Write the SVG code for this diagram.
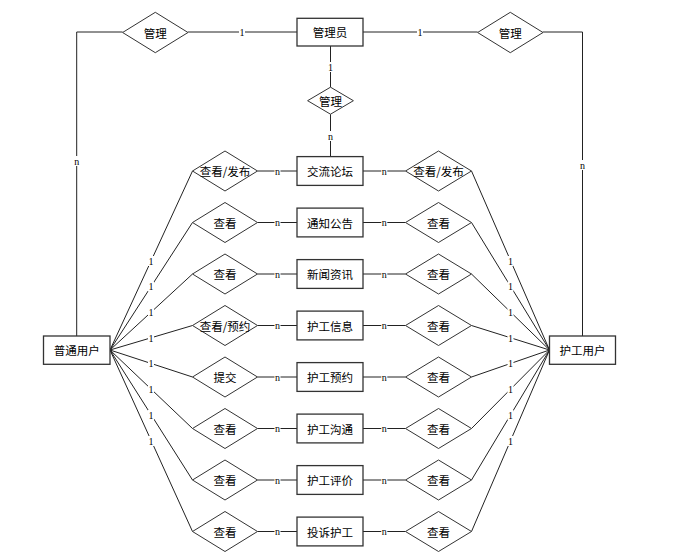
<svg xmlns="http://www.w3.org/2000/svg" width="689" height="560" viewBox="0 0 689 560">
<style>
.ent{fill:#fff;stroke:#333;stroke-width:1.3}
.rel{fill:#fff;stroke:#333;stroke-width:1}
.t{font-family:"Noto Sans CJK SC","Liberation Sans",sans-serif;font-size:11.5px;fill:#000;text-anchor:middle;dominant-baseline:central}
.c{stroke:#222;stroke-width:1;fill:none}
.lb{font-family:"Liberation Serif",serif;font-size:10px;fill:#000;text-anchor:middle;dominant-baseline:central}
.bg{fill:#fff}
</style>
<rect width="689" height="560" fill="#fff"/>
<g id="connectors">
<polyline class="c" points="297,32 188,32"/>
<polyline class="c" points="122.6,32 76.7,32 76.7,336"/>
<polyline class="c" points="363,32 477.6,32"/>
<polyline class="c" points="543,32 582.5,32 582.5,336"/>
<line class="c" x1="330.5" y1="46" x2="330.5" y2="87.2"/>
<line class="c" x1="330.5" y1="114.2" x2="330.5" y2="156.5"/>
<g id="left-lines">
<line class="c" x1="110" y1="350" x2="192.5" y2="171"/>
<line class="c" x1="110" y1="350" x2="192.5" y2="222.5"/>
<line class="c" x1="110" y1="350" x2="192.5" y2="274"/>
<line class="c" x1="110" y1="350" x2="192.5" y2="325.5"/>
<line class="c" x1="110" y1="350" x2="192.5" y2="377"/>
<line class="c" x1="110" y1="350" x2="192.5" y2="428.5"/>
<line class="c" x1="110" y1="350" x2="192.5" y2="480"/>
<line class="c" x1="110" y1="350" x2="192.5" y2="531.5"/>
</g>
<g id="right-lines">
<line class="c" x1="549.5" y1="350" x2="471.5" y2="171"/>
<line class="c" x1="549.5" y1="350" x2="471.5" y2="222.5"/>
<line class="c" x1="549.5" y1="350" x2="471.5" y2="274"/>
<line class="c" x1="549.5" y1="350" x2="471.5" y2="325.5"/>
<line class="c" x1="549.5" y1="350" x2="471.5" y2="377"/>
<line class="c" x1="549.5" y1="350" x2="471.5" y2="428.5"/>
<line class="c" x1="549.5" y1="350" x2="471.5" y2="480"/>
<line class="c" x1="549.5" y1="350" x2="471.5" y2="531.5"/>
</g>
<g id="mid-lines">
<line class="c" x1="257.5" y1="171" x2="297" y2="171"/>
<line class="c" x1="257.5" y1="222.5" x2="297" y2="222.5"/>
<line class="c" x1="257.5" y1="274" x2="297" y2="274"/>
<line class="c" x1="257.5" y1="325.5" x2="297" y2="325.5"/>
<line class="c" x1="257.5" y1="377" x2="297" y2="377"/>
<line class="c" x1="257.5" y1="428.5" x2="297" y2="428.5"/>
<line class="c" x1="257.5" y1="480" x2="297" y2="480"/>
<line class="c" x1="257.5" y1="531.5" x2="297" y2="531.5"/>
<line class="c" x1="363" y1="171" x2="405.5" y2="171"/>
<line class="c" x1="363" y1="222.5" x2="405.5" y2="222.5"/>
<line class="c" x1="363" y1="274" x2="405.5" y2="274"/>
<line class="c" x1="363" y1="325.5" x2="405.5" y2="325.5"/>
<line class="c" x1="363" y1="377" x2="405.5" y2="377"/>
<line class="c" x1="363" y1="428.5" x2="405.5" y2="428.5"/>
<line class="c" x1="363" y1="480" x2="405.5" y2="480"/>
<line class="c" x1="363" y1="531.5" x2="405.5" y2="531.5"/>
</g>
<g id="labels">
<rect class="bg" x="239" y="27" width="6" height="10"/><text class="lb" x="242" y="32">1</text>
<rect class="bg" x="417" y="27" width="6" height="10"/><text class="lb" x="420" y="32">1</text>
<rect class="bg" x="73.7" y="156" width="6" height="10"/><text class="lb" x="76.7" y="161">n</text>
<rect class="bg" x="579.5" y="160" width="6" height="10"/><text class="lb" x="582.5" y="165">n</text>
<rect class="bg" x="327.5" y="62" width="6" height="10"/><text class="lb" x="330.5" y="67">1</text>
<rect class="bg" x="327.5" y="131" width="6" height="10"/><text class="lb" x="330.5" y="136">n</text>
<g>
<rect class="bg" x="148" y="256" width="6" height="10"/><text class="lb" x="151" y="261">1</text>
<rect class="bg" x="148" y="281.5" width="6" height="10"/><text class="lb" x="151" y="286.5">1</text>
<rect class="bg" x="148" y="307.5" width="6" height="10"/><text class="lb" x="151" y="312.5">1</text>
<rect class="bg" x="148" y="333" width="6" height="10"/><text class="lb" x="151" y="338">1</text>
<rect class="bg" x="148" y="358.5" width="6" height="10"/><text class="lb" x="151" y="363.5">1</text>
<rect class="bg" x="148" y="384" width="6" height="10"/><text class="lb" x="151" y="389">1</text>
<rect class="bg" x="148" y="410" width="6" height="10"/><text class="lb" x="151" y="415">1</text>
<rect class="bg" x="148" y="436" width="6" height="10"/><text class="lb" x="151" y="441">1</text>
</g>
<g>
<rect class="bg" x="507.5" y="256" width="6" height="10"/><text class="lb" x="510.5" y="261">1</text>
<rect class="bg" x="507.5" y="281.5" width="6" height="10"/><text class="lb" x="510.5" y="286.5">1</text>
<rect class="bg" x="507.5" y="307.5" width="6" height="10"/><text class="lb" x="510.5" y="312.5">1</text>
<rect class="bg" x="507.5" y="333" width="6" height="10"/><text class="lb" x="510.5" y="338">1</text>
<rect class="bg" x="507.5" y="358.5" width="6" height="10"/><text class="lb" x="510.5" y="363.5">1</text>
<rect class="bg" x="507.5" y="384" width="6" height="10"/><text class="lb" x="510.5" y="389">1</text>
<rect class="bg" x="507.5" y="410" width="6" height="10"/><text class="lb" x="510.5" y="415">1</text>
<rect class="bg" x="507.5" y="436" width="6" height="10"/><text class="lb" x="510.5" y="441">1</text>
</g>
<g>
<rect class="bg" x="274.5" y="166" width="6" height="10"/><text class="lb" x="277.5" y="171">n</text>
<rect class="bg" x="274.5" y="217.5" width="6" height="10"/><text class="lb" x="277.5" y="222.5">n</text>
<rect class="bg" x="274.5" y="269" width="6" height="10"/><text class="lb" x="277.5" y="274">n</text>
<rect class="bg" x="274.5" y="320.5" width="6" height="10"/><text class="lb" x="277.5" y="325.5">n</text>
<rect class="bg" x="274.5" y="372" width="6" height="10"/><text class="lb" x="277.5" y="377">n</text>
<rect class="bg" x="274.5" y="423.5" width="6" height="10"/><text class="lb" x="277.5" y="428.5">n</text>
<rect class="bg" x="274.5" y="475" width="6" height="10"/><text class="lb" x="277.5" y="480">n</text>
<rect class="bg" x="274.5" y="526.5" width="6" height="10"/><text class="lb" x="277.5" y="531.5">n</text>
</g>
<g>
<rect class="bg" x="381.3" y="166" width="6" height="10"/><text class="lb" x="384.3" y="171">n</text>
<rect class="bg" x="381.3" y="217.5" width="6" height="10"/><text class="lb" x="384.3" y="222.5">n</text>
<rect class="bg" x="381.3" y="269" width="6" height="10"/><text class="lb" x="384.3" y="274">n</text>
<rect class="bg" x="381.3" y="320.5" width="6" height="10"/><text class="lb" x="384.3" y="325.5">n</text>
<rect class="bg" x="381.3" y="372" width="6" height="10"/><text class="lb" x="384.3" y="377">n</text>
<rect class="bg" x="381.3" y="423.5" width="6" height="10"/><text class="lb" x="384.3" y="428.5">n</text>
<rect class="bg" x="381.3" y="475" width="6" height="10"/><text class="lb" x="384.3" y="480">n</text>
<rect class="bg" x="381.3" y="526.5" width="6" height="10"/><text class="lb" x="384.3" y="531.5">n</text>
</g>
</g>
</g>
<g id="admin"><rect class="ent" x="297" y="18.3" width="66" height="27.7"/><text class="t" x="330" y="32">管理员</text></g>
<g id="user"><rect class="ent" x="43.5" y="336" width="66.5" height="28.3"/><text class="t" x="76.7" y="350">普通用户</text></g>
<g id="nurse"><rect class="ent" x="549.5" y="336" width="66" height="28.3"/><text class="t" x="582.5" y="350">护工用户</text></g>
<g id="rel-admin-left"><polygon class="rel" points="122.6,32.5 155.3,12.3 188,32.5 155.3,52.7"/><text class="t" x="155.3" y="32.5">管理</text></g>
<g id="rel-admin-right"><polygon class="rel" points="477.6,32.5 510.3,12.3 543,32.5 510.3,52.7"/><text class="t" x="510.3" y="32.5">管理</text></g>
<g id="rel-admin-mid"><polygon class="rel" points="307.6,100.7 330.5,87.2 353.4,100.7 330.5,114.2"/><text class="t" x="330.5" y="100.7">管理</text></g>
<g id="e1"><rect class="ent" x="297" y="156.6" width="66" height="28.8"/><text class="t" x="330" y="171">交流论坛</text></g>
<g id="e2"><rect class="ent" x="297" y="208.1" width="66" height="28.8"/><text class="t" x="330" y="222.5">通知公告</text></g>
<g id="e3"><rect class="ent" x="297" y="259.6" width="66" height="28.8"/><text class="t" x="330" y="274">新闻资讯</text></g>
<g id="e4"><rect class="ent" x="297" y="311.1" width="66" height="28.8"/><text class="t" x="330" y="325.5">护工信息</text></g>
<g id="e5"><rect class="ent" x="297" y="362.6" width="66" height="28.8"/><text class="t" x="330" y="377">护工预约</text></g>
<g id="e6"><rect class="ent" x="297" y="414.1" width="66" height="28.8"/><text class="t" x="330" y="428.5">护工沟通</text></g>
<g id="e7"><rect class="ent" x="297" y="465.6" width="66" height="28.8"/><text class="t" x="330" y="480">护工评价</text></g>
<g id="e8"><rect class="ent" x="297" y="517.1" width="66" height="28.8"/><text class="t" x="330" y="531.5">投诉护工</text></g>
<g id="l1"><polygon class="rel" points="192.5,171 225,151 257.5,171 225,191"/><text class="t" x="225" y="171">查看/发布</text></g>
<g id="l2"><polygon class="rel" points="192.5,222.5 225,202.5 257.5,222.5 225,242.5"/><text class="t" x="225" y="222.5">查看</text></g>
<g id="l3"><polygon class="rel" points="192.5,274 225,254 257.5,274 225,294"/><text class="t" x="225" y="274">查看</text></g>
<g id="l4"><polygon class="rel" points="192.5,325.5 225,305.5 257.5,325.5 225,345.5"/><text class="t" x="225" y="325.5">查看/预约</text></g>
<g id="l5"><polygon class="rel" points="192.5,377 225,357 257.5,377 225,397"/><text class="t" x="225" y="377">提交</text></g>
<g id="l6"><polygon class="rel" points="192.5,428.5 225,408.5 257.5,428.5 225,448.5"/><text class="t" x="225" y="428.5">查看</text></g>
<g id="l7"><polygon class="rel" points="192.5,480 225,460 257.5,480 225,500"/><text class="t" x="225" y="480">查看</text></g>
<g id="l8"><polygon class="rel" points="192.5,531.5 225,511.5 257.5,531.5 225,551.5"/><text class="t" x="225" y="531.5">查看</text></g>
<g id="r1"><polygon class="rel" points="405.5,171 438.5,151 471.5,171 438.5,191"/><text class="t" x="438.5" y="171">查看/发布</text></g>
<g id="r2"><polygon class="rel" points="405.5,222.5 438.5,202.5 471.5,222.5 438.5,242.5"/><text class="t" x="438.5" y="222.5">查看</text></g>
<g id="r3"><polygon class="rel" points="405.5,274 438.5,254 471.5,274 438.5,294"/><text class="t" x="438.5" y="274">查看</text></g>
<g id="r4"><polygon class="rel" points="405.5,325.5 438.5,305.5 471.5,325.5 438.5,345.5"/><text class="t" x="438.5" y="325.5">查看</text></g>
<g id="r5"><polygon class="rel" points="405.5,377 438.5,357 471.5,377 438.5,397"/><text class="t" x="438.5" y="377">查看</text></g>
<g id="r6"><polygon class="rel" points="405.5,428.5 438.5,408.5 471.5,428.5 438.5,448.5"/><text class="t" x="438.5" y="428.5">查看</text></g>
<g id="r7"><polygon class="rel" points="405.5,480 438.5,460 471.5,480 438.5,500"/><text class="t" x="438.5" y="480">查看</text></g>
<g id="r8"><polygon class="rel" points="405.5,531.5 438.5,511.5 471.5,531.5 438.5,551.5"/><text class="t" x="438.5" y="531.5">查看</text></g>
</svg>
